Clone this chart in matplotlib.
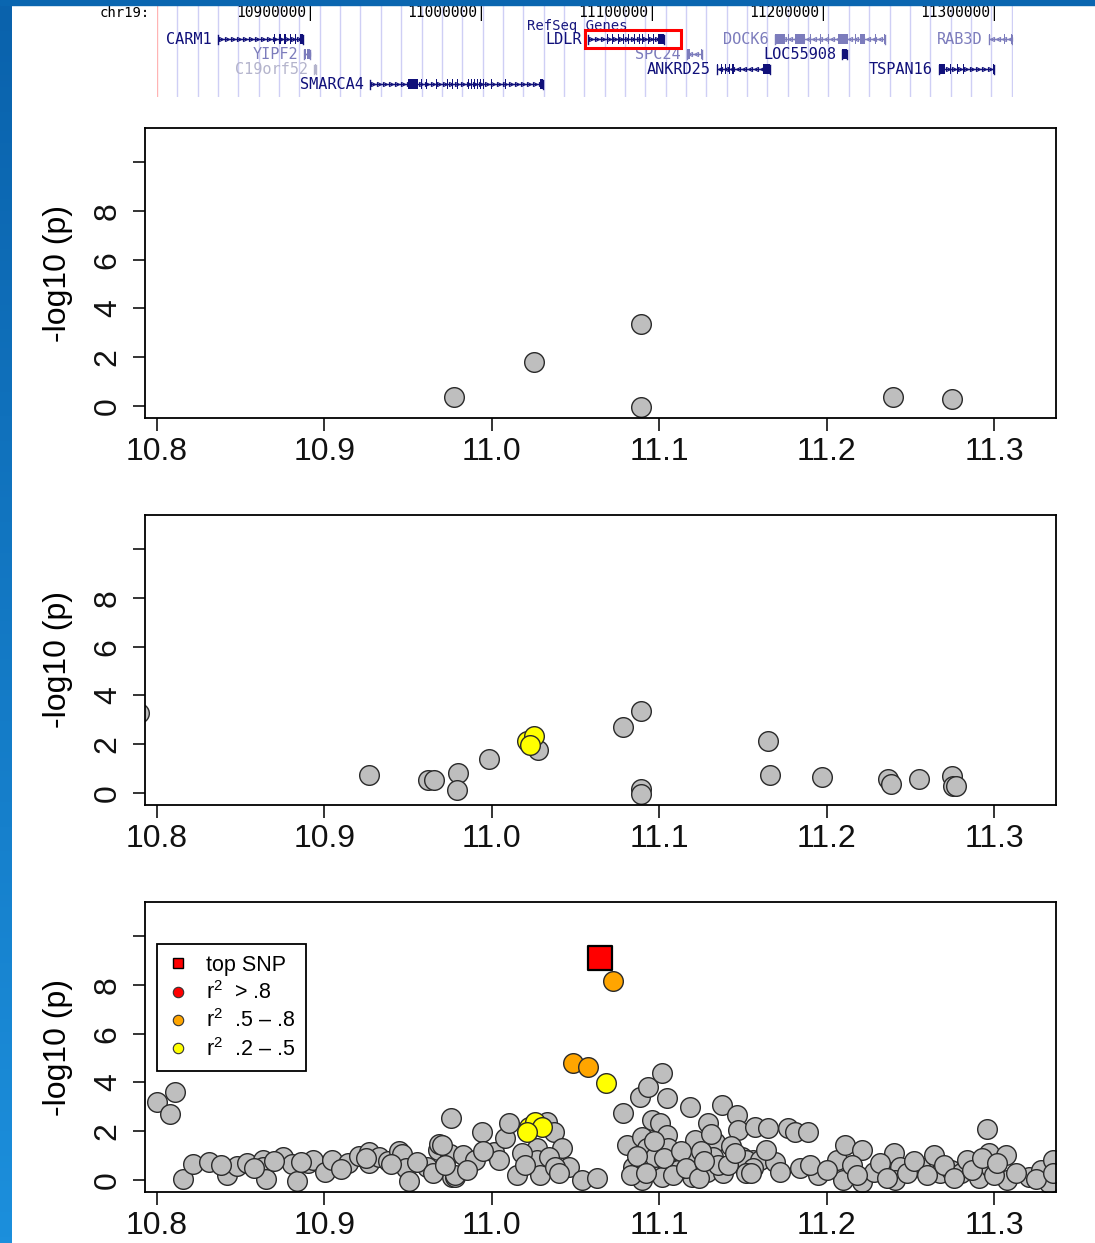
import numpy as np
import matplotlib
matplotlib.use('Agg')
import matplotlib.pyplot as plt
from matplotlib.patches import Rectangle
from matplotlib.lines import Line2D

plt.rcParams['font.family'] = ['Liberation Sans', 'DejaVu Sans']
plt.rcParams['mathtext.fontset'] = 'custom'
plt.rcParams['mathtext.rm'] = 'Liberation Sans'
plt.rcParams['mathtext.default'] = 'regular'

# ---------------- data ----------------
# gene track (positions in Mb on chr19)
gene_names = ['CARM1', 'YIPF2', 'C19orf52', 'SMARCA4', 'LDLR', 'SPC24',
              'ANKRD25', 'DOCK6', 'LOC55908', 'RAB3D', 'TSPAN16']
gene_start = [10.8442, 10.8950, 10.9006, 10.9333, 11.0608, 11.1187,
              11.1363, 11.1702, 11.2094, 11.2953, 11.2661]
gene_end = [10.8944, 10.8985, 10.9018, 11.0345, 11.1053, 11.1275,
            11.1673, 11.2345, 11.2123, 11.3088, 11.2982]
gene_row = [0, 1, 2, 3, 0, 1, 2, 0, 1, 0, 2]
gene_strand = ['+', '-', '+', '+', '+', '-', '-', '-', '+', '-', '+']
gene_shade = ['dark', 'light', 'pale', 'dark', 'dark', 'light',
              'dark', 'light', 'dark', 'light', 'dark']
gene_exons = [
    [(10.8770, 10.8780), (10.8801, 10.8811), (10.8830, 10.8840),
     (10.8863, 10.8873), (10.8893, 10.8903), (10.8924, 10.8944)],
    [(10.8950, 10.8958), (10.8966, 10.8974), (10.8978, 10.8985)],
    [(10.9010, 10.9016)],
    [(10.9556, 10.9614), (10.9632, 10.9640), (10.9661, 10.9669),
     (10.9719, 10.9727), (10.9784, 10.9792), (10.9813, 10.9821),
     (10.9842, 10.9850), (10.9906, 10.9914), (10.9924, 10.9932),
     (10.9942, 10.9950), (10.9959, 10.9967), (10.9977, 10.9985),
     (10.9994, 11.0002), (11.0041, 11.0049), (11.0123, 11.0131),
     (11.0327, 11.0345)],
    [(11.0719, 11.0727), (11.0749, 11.0757), (11.0784, 11.0792),
     (11.0813, 11.0821), (11.0842, 11.0850), (11.0877, 11.0885),
     (11.0906, 11.0914), (11.0924, 11.0932), (11.0959, 11.0967),
     (11.0988, 11.0996), (11.1018, 11.1053)],
    [(11.1187, 11.1205), (11.1268, 11.1275)],
    [(11.1363, 11.1371), (11.1386, 11.1394), (11.1409, 11.1417),
     (11.1433, 11.1441), (11.1450, 11.1460), (11.1632, 11.1673)],
    [(11.1702, 11.1760), (11.1778, 11.1786), (11.1819, 11.1877),
     (11.1906, 11.1914), (11.1965, 11.1973), (11.2012, 11.2020),
     (11.2070, 11.2129), (11.2170, 11.2178), (11.2199, 11.2228),
     (11.2287, 11.2295), (11.2340, 11.2345)],
    [(11.2094, 11.2123)],
    [(11.2953, 11.2960), (11.3040, 11.3048), (11.3082, 11.3088)],
    [(11.2661, 11.2696), (11.2725, 11.2733), (11.2766, 11.2774),
     (11.2801, 11.2809), (11.2976, 11.2982)],
]
track_ticks = [10.9, 11.0, 11.1, 11.2, 11.3]
track_tick_labels = ['10900000|', '11000000|', '11100000|', '11200000|', '11300000|']
highlight_gene = 'LDLR'

# panel 1
p1_pos = [10.9774, 11.0252, 11.0891, 11.0891, 11.2397, 11.2749]
p1_logp = [0.37, 1.80, 3.36, -0.02, 0.37, 0.29]

# panel 2
p2_pos = [10.789, 10.9266, 10.962, 10.9656, 10.980, 10.979, 10.998, 11.0276,
          11.0784, 11.089, 11.089, 11.089, 11.165, 11.166, 11.197, 11.2367,
          11.2385, 11.2552, 11.275, 11.2755, 11.277]
p2_logp = [3.28, 0.74, 0.53, 0.53, 0.82, 0.12, 1.39, 1.76,
           2.70, 3.36, 0.16, -0.04, 2.13, 0.74, 0.66, 0.57,
           0.37, 0.57, 0.70, 0.29, 0.29]
p2_yellow_pos = [11.021, 11.025, 11.023]
p2_yellow_logp = [2.13, 2.34, 1.97]

# panel 3
p3_pos = [10.800, 10.8108, 10.8078, 10.8157, 10.8217, 10.8312, 10.842, 10.8476,
          10.8536, 10.8635, 10.8635, 10.8651, 10.8755, 10.8805, 10.8834, 10.8904,
          10.8934, 10.9004, 10.9044, 10.9143, 10.9209, 10.9268, 10.9268, 10.9328,
          10.9382, 10.9447, 10.9462, 10.9487, 10.9507, 10.9611, 10.968, 10.9686,
          10.975, 10.9754, 10.976, 10.978, 10.970, 10.978, 10.983, 10.990,
          10.994, 11.001, 11.004, 11.008, 11.010, 11.015, 11.027, 11.027,
          11.029, 11.033, 11.037, 11.042, 11.046, 11.054, 11.063, 11.034,
          11.038, 11.0786, 11.0806, 11.0845, 11.0885, 11.0895, 11.0895, 11.0935,
          11.0955, 11.0985, 11.1014, 11.1005, 11.1045, 11.1045, 11.1055, 11.1055,
          11.1015, 11.1184, 11.1214, 11.1204, 11.1194, 11.1293, 11.1333, 11.1323,
          11.1284, 11.1373, 11.1383, 11.1463, 11.1472, 11.1492, 11.1562, 11.157,
          11.165, 11.177, 11.181, 11.189, 11.152, 11.160, 11.169, 11.164,
          11.156, 11.184, 11.195, 11.206, 11.211, 11.221, 11.210, 11.221,
          11.228, 11.240, 11.244, 11.241, 11.256, 11.264, 11.268, 11.274,
          11.280, 11.284, 11.291, 11.296, 11.297, 11.298, 11.307, 11.308,
          11.321, 11.328, 11.335, 11.333, 11.0925, 11.0975, 11.111, 11.125,
          11.143, 11.135,
          10.838, 10.858, 10.870, 10.886, 10.910, 10.925, 10.940, 10.955,
          10.965, 10.972, 10.985, 10.995, 11.018, 11.020, 11.040,
          11.083, 11.087, 11.092, 11.097, 11.103, 11.108, 11.113, 11.116,
          11.124, 11.127, 11.131, 11.141, 11.145, 11.152,
          11.155, 11.172, 11.190, 11.200, 11.215, 11.218, 11.232, 11.236,
          11.248, 11.252, 11.260, 11.270, 11.276, 11.287, 11.293, 11.300,
          11.302, 11.313, 11.325, 11.335]
p3_logp = [3.21, 3.62, 2.69, 0.04, 0.64, 0.72, 0.20, 0.59,
           0.68, 0.82, 0.55, 0.04, 0.96, 0.64, -0.04, 0.68,
           0.82, 0.34, 0.82, 0.68, 1.00, 1.16, 0.68, 0.96,
           0.78, 1.19, 1.05, 0.48, -0.04, 0.55, 1.23, 1.46,
           1.05, 2.55, 0.14, 0.14, 1.43, 0.20, 1.02, 0.82,
           1.98, 1.16, 0.82, 1.71, 2.32, 0.20, 1.30, 0.82,
           0.20, 2.39, 1.98, 1.30, 0.55, 0.00, 0.07, 0.96,
           0.55, 2.73, 1.43, 0.55, 3.41, 1.77, 0.00, 3.82,
           2.46, 0.55, 4.40, 2.32, 3.35, 1.84, 1.30, 0.55,
           0.14, 3.00, 1.64, 0.82, 0.14, 2.32, 1.57, 0.96,
           0.34, 3.07, 0.27, 2.66, 2.05, 0.96, 0.82, 2.18,
           2.12, 2.12, 1.98, 1.98, 0.82, 0.82, 0.75, 1.23,
           0.48, 0.48, 0.20, 0.82, 1.43, 1.23, 0.00, -0.07,
           0.34, 1.09, 0.55, 0.00, 0.55, 1.02, 0.27, 0.41,
           0.27, 0.82, 0.07, 2.08, 1.09, 0.48, 1.02, 0.00,
           0.14, 0.41, 0.82, -0.14, 1.30, 0.96, 0.41, 1.20,
           1.40, 0.60,
           0.62, 0.50, 0.80, 0.75, 0.45, 0.90, 0.65, 0.75,
           0.30, 0.60, 0.40, 1.20, 1.10, 0.60, 0.30,
           0.20, 1.00, 0.30, 1.60, 0.90, 0.20, 1.20, 0.50,
           0.10, 0.80, 1.90, 0.60, 1.10, 0.30,
           0.30, 0.35, 0.60, 0.40, 0.60, 0.20, 0.70, 0.10,
           0.30, 0.80, 0.20, 0.60, 0.10, 0.40, 0.90, 0.20,
           0.70, 0.30, 0.05, 0.30]
p3_orange_pos = [11.0724, 11.0485, 11.0575]
p3_orange_logp = [8.16, 4.80, 4.63]
p3_yellow_pos = [11.0680, 11.022, 11.026, 11.030, 11.021]
p3_yellow_logp = [3.96, 2.18, 2.39, 2.18, 1.98]
top_snp_pos = [11.0646]
top_snp_logp = [9.10]

x_ticks = [10.8, 10.9, 11.0, 11.1, 11.2, 11.3]
x_tick_labels = ['10.8', '10.9', '11.0', '11.1', '11.2', '11.3']
y_ticks = [0, 2, 4, 6, 8, 10]
y_tick_labels = ['0', '2', '4', '6', '8', '']
legend_labels = ['top SNP', r'$r^2$  > .8', r'$r^2$  .5 – .8', r'$r^2$  .2 – .5']

# ---------------- figure ----------------
W, H = 1095, 1243
fig = plt.figure(figsize=(W / 100, H / 100), dpi=100)

# blue frame pieces (slide background)
bg = fig.add_axes([0, 0, 12 / W, 1])
bg.imshow(np.linspace(0, 1, 200).reshape(-1, 1), aspect='auto',
          cmap=matplotlib.colors.LinearSegmentedColormap.from_list('b', ['#0a62ac', '#1c8fdc']),
          extent=(0, 1, 0, 1))
bg.axis('off')
fig.patches.append(Rectangle((0, 1 - 5 / H), 1, 5 / H, transform=fig.transFigure,
                             color='#0a66b0', zorder=0))

# ---------------- gene track ----------------
tx0, tx1 = 10.8088, 11.3094
tr = fig.add_axes([157 / W, 1 - 97 / H, 856 / W, 92 / H])
tr.set_xlim(tx0, tx1)
tr.set_ylim(6.13, 0)
tr.axis('off')
for gx in np.arange(tx0 + 0.0119, tx1, 0.0119):
    tr.axvline(gx, color='#cfcff5', lw=1, zorder=0)
tr.axvline(tx0 + 0.0002, color='#ffb4b4', lw=1, zorder=0)

mono = 'DejaVu Sans Mono'
tr.text(10.8047, 0.5, 'chr19:', ha='right', va='center', family=mono,
        fontsize=10, color='black', clip_on=False)
for t, lab in zip(track_ticks, track_tick_labels):
    tr.text(t + 0.0012, 0.5, lab, ha='right', va='center', family=mono,
            fontsize=10.5, color='black', clip_on=False)
tr.text(11.0545, 1.42, 'RefSeq Genes', ha='center', va='center', family=mono,
        fontsize=10, color='#1a1a80')

shade_col = {'dark': '#10107a', 'light': '#7c7cbc', 'pale': '#b4b4cc'}
row_y = [2.27, 3.27, 4.27, 5.27]
for name, s, e, r, st, sh, ex in zip(gene_names, gene_start, gene_end, gene_row,
                                      gene_strand, gene_shade, gene_exons):
    c = shade_col[sh]
    y = row_y[r]
    tr.plot([s, e], [y, y], color=c, lw=1, solid_capstyle='butt')
    tr.plot([s, s], [y - 0.3, y + 0.3], color=c, lw=1)
    tr.plot([e, e], [y - 0.3, y + 0.3], color=c, lw=1)
    ch = np.arange(s + 0.002, e - 0.001, 0.0035)
    tr.plot(ch, [y] * len(ch), ls='none', marker='>' if st == '+' else '<',
            ms=3, mfc='none', mec=c, mew=0.8)
    for a, b in ex:
        tr.add_patch(Rectangle((a, y - 0.33), b - a, 0.66, color=c, lw=0))
    tr.text(s - 0.0035, y, name, ha='right', va='center', family=mono,
            fontsize=11, color=c, clip_on=False)
    if name == highlight_gene:
        tr.add_patch(Rectangle((s - 0.0017, y - 0.6), 11.1152 - s + 0.0017, 1.2,
                               fill=False, ec='#ff0000', lw=2.2, zorder=5))

# ---------------- association panels ----------------
panel_tops = [128, 515, 902]
axes = []
for top in panel_tops:
    ax = fig.add_axes([145 / W, 1 - (top + 290) / H, 911 / W, 290 / H])
    ax.set_xlim(10.7928, 11.337)
    ax.set_ylim(-0.49, 11.4)
    ax.set_xticks(x_ticks)
    ax.set_xticklabels(x_tick_labels)
    ax.set_yticks(y_ticks)
    ax.set_yticklabels(y_tick_labels, rotation=90, va='center')
    ax.tick_params(direction='out', length=9, width=1.2, labelsize=23,
                   colors='#111111')
    ax.tick_params(axis='x', pad=5)
    ax.tick_params(axis='y', pad=7)
    for sp in ax.spines.values():
        sp.set_linewidth(1.3)
    ax.set_ylabel('-log10 (p)', fontsize=23)
    ax.yaxis.set_label_coords(-0.079, 0.5)
    axes.append(ax)

kw = dict(s=200, edgecolors='#2a2a2a', linewidths=1.0)
ax1, ax2, ax3 = axes
ax1.scatter(p1_pos, p1_logp, c='#bebebe', **kw)

ax2.scatter(p2_pos, p2_logp, c='#bebebe', **kw)
ax2.scatter(p2_yellow_pos, p2_yellow_logp, c='#ffff00', **kw)

ax3.scatter(p3_pos, p3_logp, c='#bebebe', **kw)
ax3.scatter(p3_yellow_pos, p3_yellow_logp, c='#ffff00', **kw)
ax3.scatter(p3_orange_pos, p3_orange_logp, c='#ffa500', **kw)
ax3.scatter(top_snp_pos, top_snp_logp, c='#ff0000', marker='s', s=300,
            edgecolors='black', linewidths=1.6, zorder=4)

handles = [
    Line2D([], [], ls='none', marker='s', ms=7.5, mfc='#ff0000', mec='black', mew=1),
    Line2D([], [], ls='none', marker='o', ms=7.5, mfc='#ff0000', mec='#333333', mew=0.8),
    Line2D([], [], ls='none', marker='o', ms=7.5, mfc='#ffa500', mec='#333333', mew=0.8),
    Line2D([], [], ls='none', marker='o', ms=7.5, mfc='#ffff00', mec='#333333', mew=0.8),
]
leg = ax3.legend(handles, legend_labels, loc='upper left', bbox_to_anchor=(0.013, 0.855),
                 borderaxespad=0, fontsize=15.5, frameon=True, fancybox=False,
                 edgecolor='black', framealpha=1, borderpad=0.5, labelspacing=0.25,
                 handlelength=1.0, handletextpad=0.8)
leg.get_frame().set_linewidth(1.3)

fig.savefig('out.png', dpi=100)
